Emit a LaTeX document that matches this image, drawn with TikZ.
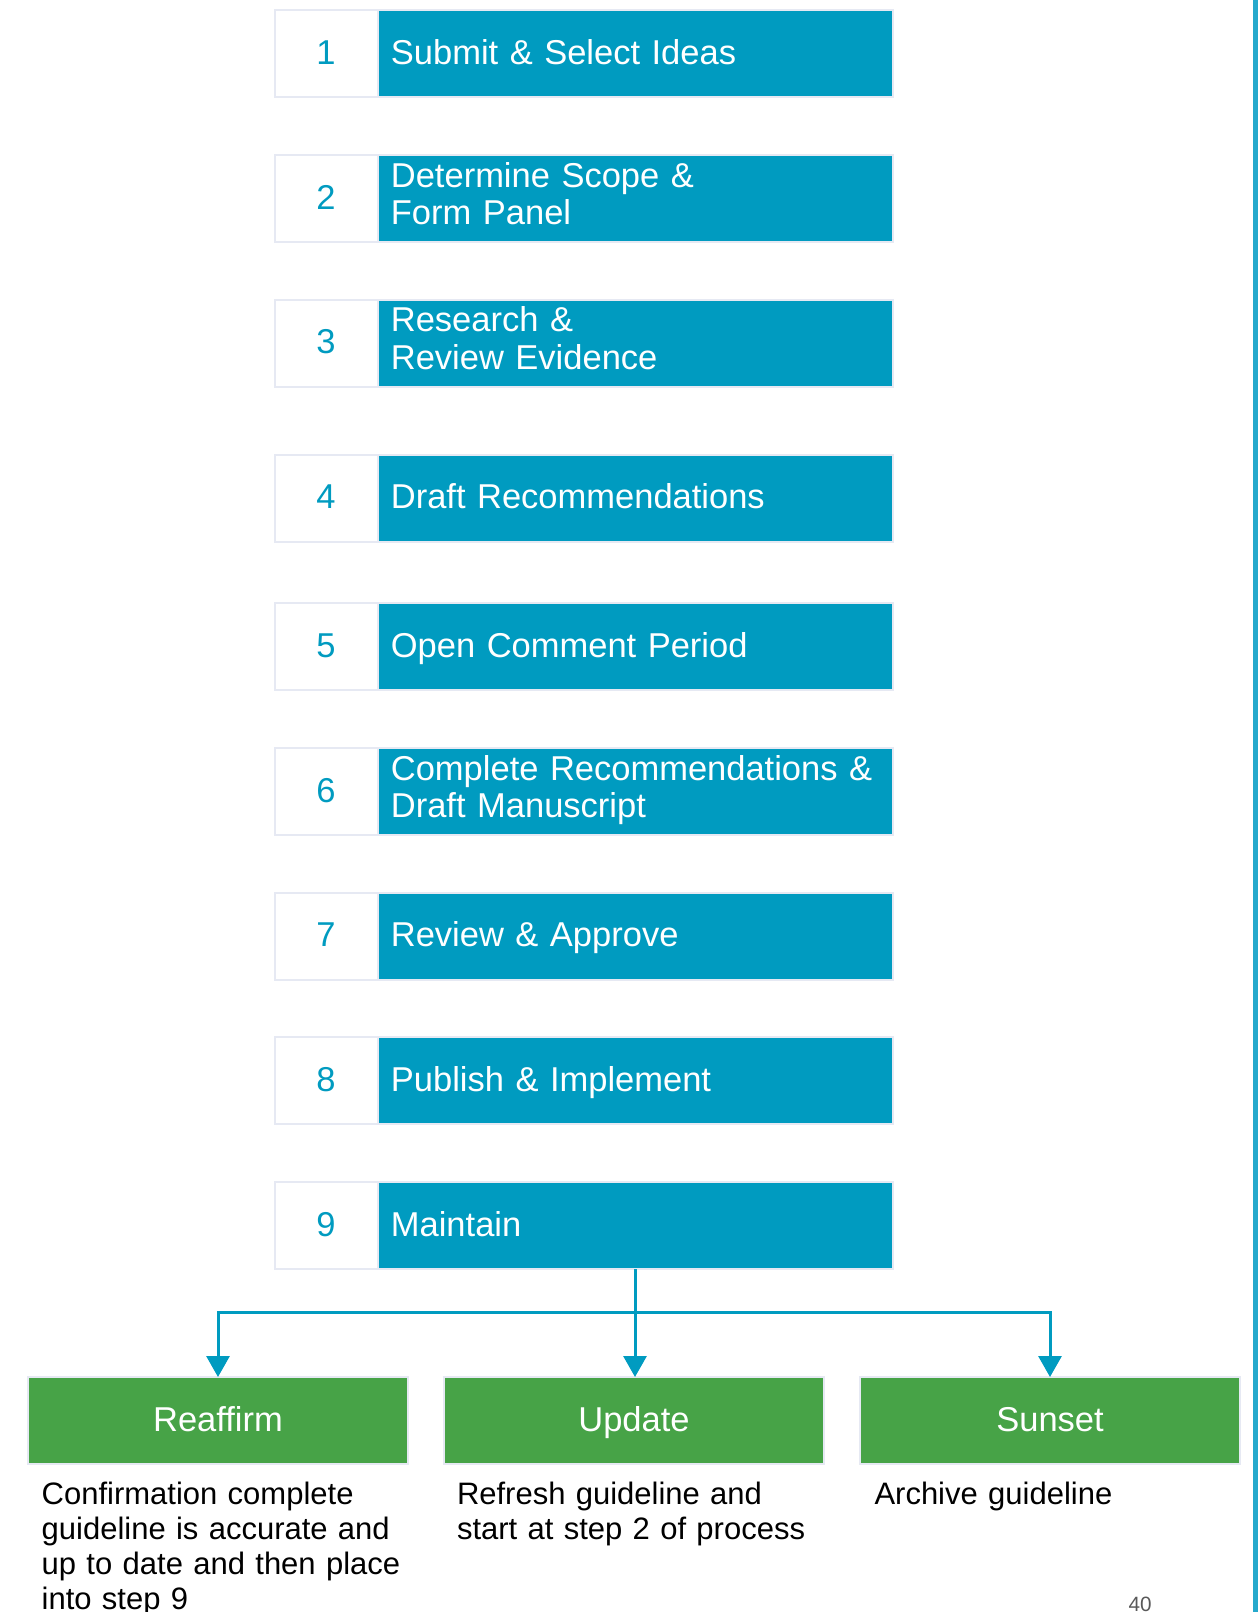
\documentclass[tikz,border=0pt]{standalone}
\usepackage{fontspec}
\setmainfont{Liberation Sans}
\usetikzlibrary{arrows.meta}
\definecolor{stepblue}{RGB}{0,155,192}
\definecolor{stepgreen}{RGB}{71,163,71}
\definecolor{cellborder}{RGB}{230,233,243}
\definecolor{barblue}{RGB}{38,169,204}
\definecolor{pagegray}{RGB}{89,89,89}
\tikzset{
  numcell/.style={draw=cellborder, line width=2pt, fill=white, text=stepblue,
    minimum width=103pt, minimum height=87pt, inner sep=0pt, outer sep=0pt,
    text height=25pt, text depth=4pt,
    anchor=north west, font=\fontsize{34.5}{37.7}\selectfont},
  titlecell/.style={draw=cellborder, line width=2pt, fill=stepblue, text=white,
    minimum width=515pt, minimum height=87pt, inner xsep=13.4pt, inner ysep=0pt,
    text width=488.2pt, align=left, outer sep=0pt, anchor=north west,
    text height=25pt, text depth=4pt,
    font=\fontsize{34.5}{37.7}\selectfont},
  titletwo/.style={titlecell, text height=25pt, text depth=48pt},
  outcome/.style={draw=cellborder, line width=2pt, fill=stepgreen, text=white,
    minimum width=380pt, minimum height=87pt, inner sep=0pt, outer sep=0pt,
    text height=25pt, text depth=3pt,
    anchor=north west, font=\fontsize{34.5}{37.7}\selectfont},
  desc/.style={anchor=north west, inner sep=0pt, outer sep=0pt, text width=370pt,
    align=left, font=\fontsize{31}{34.7}\selectfont},
  flow/.style={draw=stepblue, line width=3pt},
  flowarrow/.style={flow, -{Triangle[width=23pt,length=21pt]}}
}
\begin{document}
\begin{tikzpicture}[x=1pt,y=-1pt]
\useasboundingbox (0,0) rectangle (1258,1612);
\fill[white] (0,0) rectangle (1258,1612);
% right edge bar
\fill[barblue] (1253.3,0) rectangle (1258,1612);

% steps
\node[numcell] (n1) at (274.5,10) {1};
\node[titlecell] (t1) at (377.5,10) {Submit \& Select Ideas};
\node[numcell] (n2) at (274.5,155) {2};
\node[titletwo] (t2) at (377.5,155) {Determine Scope \&\\Form Panel};
\node[numcell] (n3) at (274.5,299.5) {3};
\node[titletwo] (t3) at (377.5,299.5) {Research \&\\Review Evidence};
\node[numcell] (n4) at (274.5,454.5) {4};
\node[titlecell] (t4) at (377.5,454.5) {Draft Recommendations};
\node[numcell] (n5) at (274.5,603) {5};
\node[titlecell] (t5) at (377.5,603) {Open Comment Period};
\node[numcell] (n6) at (274.5,748) {6};
\node[titletwo] (t6) at (377.5,748) {Complete Recommendations \&\\Draft Manuscript};
\node[numcell] (n7) at (274.5,892.5) {7};
\node[titlecell] (t7) at (377.5,892.5) {Review \& Approve};
\node[numcell] (n8) at (274.5,1037) {8};
\node[titlecell] (t8) at (377.5,1037) {Publish \& Implement};
\node[numcell] (n9) at (274.5,1182) {9};
\node[titlecell] (t9) at (377.5,1182) {Maintain};

% outcomes
\node[outcome] (reaf) at (28,1377) {Reaffirm};
\node[outcome] (upd) at (444,1377) {Update};
\node[outcome] (sun) at (860,1377) {Sunset};

% connectors
\coordinate (junc) at (t9.south |- 0,1312);
\draw[flowarrow] (t9.south) -- (t9.south |- upd.north);
\draw[flowarrow] (junc) -| (reaf.north);
\draw[flowarrow] (junc) -| (sun.north);

% descriptions
\node[desc] (d1) at (41.7,1482.5) {Confirmation complete\\guideline is accurate and\\up to date and then place\\into step 9};
\node[desc] (d2) at (457,1482.5) {Refresh guideline and\\start at step 2 of process};
\node[desc] (d3) at (874.5,1482.5) {Archive guideline};

% page number
\node[anchor=base, inner sep=0pt, text=pagegray, font=\fontsize{20.7}{24}\selectfont] (pg) at (1140,1611.5) {40};
\end{tikzpicture}
\end{document}
